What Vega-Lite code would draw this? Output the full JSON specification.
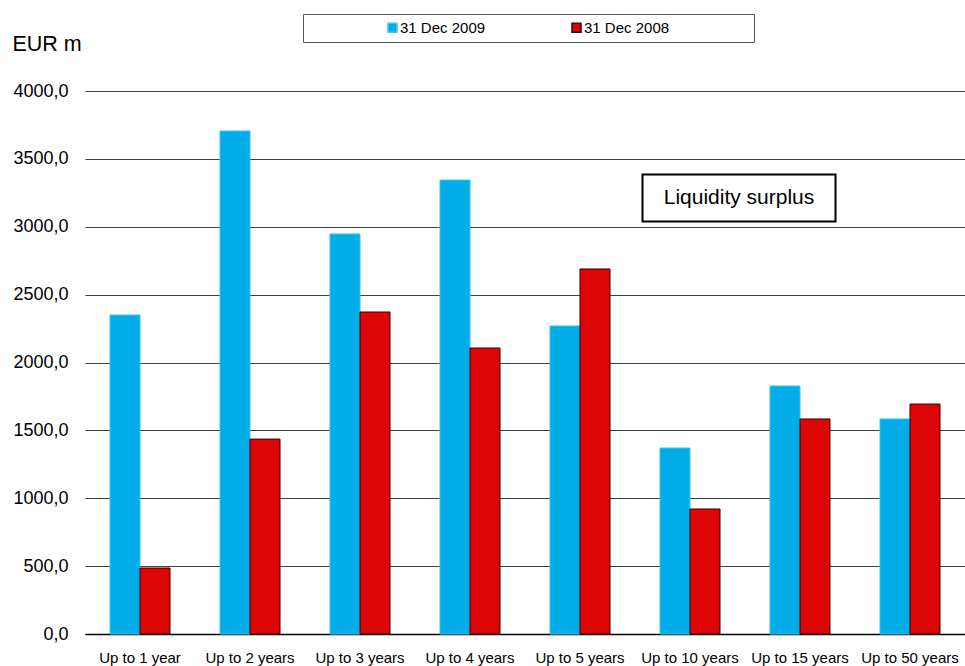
{
  "$schema": "https://vega.github.io/schema/vega-lite/v6.json",
  "width": 880,
  "height": 543,
  "autosize": {"type": "none"},
  "padding": {"left": 85, "top": 91, "right": 0, "bottom": 32},
  "background": "white",
  "config": {
    "font": "Liberation Sans",
    "view": {"stroke": null}
  },
  "datasets": {
    "bars": [
      {"bucket": "Up to 1 year", "series": "31 Dec 2009", "value": 2350},
      {"bucket": "Up to 1 year", "series": "31 Dec 2008", "value": 486},
      {"bucket": "Up to 2 years", "series": "31 Dec 2009", "value": 3705},
      {"bucket": "Up to 2 years", "series": "31 Dec 2008", "value": 1436},
      {"bucket": "Up to 3 years", "series": "31 Dec 2009", "value": 2947},
      {"bucket": "Up to 3 years", "series": "31 Dec 2008", "value": 2372},
      {"bucket": "Up to 4 years", "series": "31 Dec 2009", "value": 3344},
      {"bucket": "Up to 4 years", "series": "31 Dec 2008", "value": 2107},
      {"bucket": "Up to 5 years", "series": "31 Dec 2009", "value": 2269},
      {"bucket": "Up to 5 years", "series": "31 Dec 2008", "value": 2689},
      {"bucket": "Up to 10 years", "series": "31 Dec 2009", "value": 1370},
      {"bucket": "Up to 10 years", "series": "31 Dec 2008", "value": 921},
      {"bucket": "Up to 15 years", "series": "31 Dec 2009", "value": 1827},
      {"bucket": "Up to 15 years", "series": "31 Dec 2008", "value": 1584},
      {"bucket": "Up to 50 years", "series": "31 Dec 2009", "value": 1584},
      {"bucket": "Up to 50 years", "series": "31 Dec 2008", "value": 1694}
    ],
    "note": [
      {"bucket": "Up to 10 years", "value": 3212, "label": "Liquidity surplus"}
    ]
  },
  "layer": [
    {
      "data": {"name": "bars"},
      "mark": {"type": "bar", "strokeWidth": 1},
      "encoding": {
        "x": {
          "field": "bucket",
          "type": "nominal",
          "sort": null,
          "scale": {"paddingInner": 0.4545, "paddingOuter": 0.2273},
          "axis": {
            "title": null,
            "labelAngle": 0,
            "labelFontSize": 15,
            "labelColor": "#000000",
            "labelPadding": 16,
            "ticks": false,
            "domainColor": "#000000",
            "domainWidth": 1.5,
            "grid": false
          }
        },
        "xOffset": {"field": "series", "type": "nominal", "sort": ["31 Dec 2009", "31 Dec 2008"]},
        "y": {
          "field": "value",
          "type": "quantitative",
          "scale": {"domain": [0, 4000]},
          "axis": {
            "title": "EUR m",
            "titleAngle": 0,
            "titleAlign": "left",
            "titleBaseline": "alphabetic",
            "titleX": -73,
            "titleY": -41,
            "titleFontSize": 21.5,
            "titleFontWeight": "normal",
            "titleColor": "#000000",
            "values": [0, 500, 1000, 1500, 2000, 2500, 3000, 3500, 4000],
            "labelExpr": "replace(format(datum.value, '.1f'), '.', ',')",
            "labelFontSize": 18,
            "labelColor": "#000000",
            "labelPadding": 17,
            "ticks": false,
            "domain": false,
            "grid": true,
            "gridColor": "#404040",
            "gridWidth": 1.2
          }
        },
        "color": {
          "field": "series",
          "type": "nominal",
          "sort": ["31 Dec 2009", "31 Dec 2008"],
          "scale": {"domain": ["31 Dec 2009", "31 Dec 2008"], "range": ["#00ADE9", "#DD0606"]},
          "legend": {
            "title": " ",
            "titleOrient": "right",
            "titlePadding": 79,
            "orient": "none",
            "legendX": 218,
            "legendY": -77,
            "direction": "horizontal",
            "columns": 2,
            "columnPadding": 7,
            "symbolOffset": 76,
            "labelOffset": 0,
            "symbolType": "square",
            "symbolSize": 81,
            "labelFontSize": 15,
            "labelColor": "#000000",
            "padding": 6,
            "strokeColor": "#555555",
            "fillColor": "white"
          }
        },
        "stroke": {
          "field": "series",
          "type": "nominal",
          "scale": {"domain": ["31 Dec 2009", "31 Dec 2008"], "range": ["#3FC3F0", "#3A0000"]},
          "legend": null
        }
      }
    },
    {
      "data": {"name": "note"},
      "mark": {
        "type": "point",
        "shape": "M-0.4922,-0.2435H1.5078V0.2435H-0.4922Z",
        "size": 37249,
        "filled": true,
        "fill": "white",
        "stroke": "#000000",
        "strokeWidth": 2,
        "opacity": 1
      },
      "encoding": {
        "x": {"field": "bucket", "type": "nominal", "sort": null},
        "y": {"field": "value", "type": "quantitative"}
      }
    },
    {
      "data": {"name": "note"},
      "mark": {
        "type": "text",
        "fontSize": 21,
        "color": "#000000",
        "align": "center",
        "baseline": "middle",
        "dx": 49
      },
      "encoding": {
        "x": {"field": "bucket", "type": "nominal", "sort": null},
        "y": {"field": "value", "type": "quantitative"},
        "text": {"field": "label"}
      }
    }
  ]
}
